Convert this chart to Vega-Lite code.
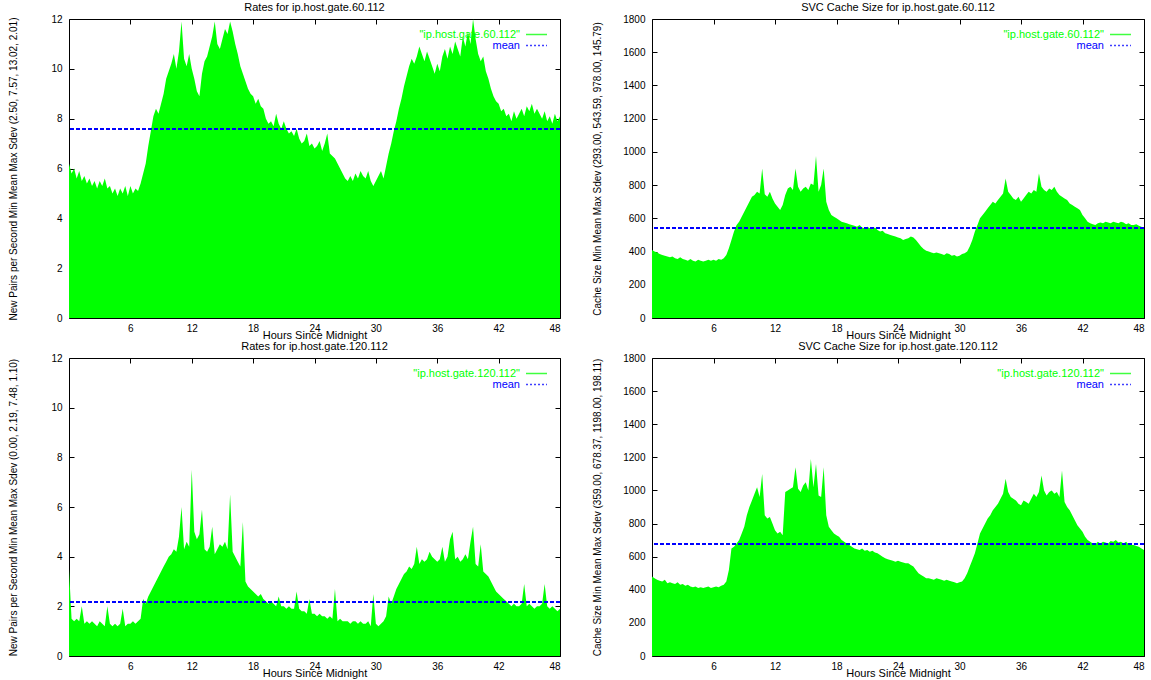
{
"$schema": "https://vega.github.io/schema/vega-lite/v6.json",
"padding": {"left": 8, "top": 1, "right": 0, "bottom": 0},
"background": "white",
"config": {
  "font": "Liberation Sans",
  "view": {"stroke": "#000", "strokeWidth": 1},
  "axis": {"domain": false, "grid": false, "tickColor": "#000", "tickSize": -5, "tickWidth": 1, "labelFont": "Liberation Sans", "labelFontSize": 10, "labelColor": "#000", "titleFont": "Liberation Sans", "titleFontSize": 11, "titleFontWeight": "normal", "titleColor": "#000"},
  "axisY": {"titleFontSize": 10},
  "title": {"font": "Liberation Sans", "fontSize": 11, "fontWeight": "normal", "color": "#000", "baseline": "bottom", "offset": 1, "frame": "group"},
  "legend": {"title": null, "orient": "top-right", "offset": 10, "symbolType": "M-3,0H3", "symbolSize": 49, "symbolStrokeWidth": 1.5, "labelAlign": "right", "rowPadding": -3, "labelFontSize": 11, "labelFont": "Liberation Sans", "labelLimit": 0, "labelColor": {"expr": "datum.value === 'mean' ? '#0000ff' : '#00ff00'"}, "symbolDash": {"expr": "datum.value === 'mean' ? [2,2] : [1,0]"}, "symbolStrokeColor": {"expr": "datum.value === 'mean' ? '#0000ff' : '#00ff00'"}}
},
"datasets": {"d": [
{"h":0,"a":6.2,"b":410,"c":3.5,"d":480},{"h":0.25,"a":5.8,"b":400,"c":1.5,"d":470},{"h":0.5,"a":6.0,"b":395,"c":1.4,"d":460},{"h":0.75,"a":5.6,"b":385,"c":1.5,"d":455},
{"h":1,"a":5.9,"b":380,"c":1.4,"d":450},{"h":1.25,"a":5.5,"b":375,"c":2.0,"d":460},{"h":1.5,"a":5.7,"b":370,"c":1.3,"d":440},{"h":1.75,"a":5.4,"b":365,"c":1.4,"d":445},
{"h":2,"a":5.6,"b":370,"c":1.3,"d":440},{"h":2.25,"a":5.3,"b":360,"c":1.4,"d":435},{"h":2.5,"a":5.5,"b":355,"c":1.3,"d":445},{"h":2.75,"a":5.2,"b":365,"c":1.2,"d":430},
{"h":3,"a":5.5,"b":355,"c":1.4,"d":435},{"h":3.25,"a":5.3,"b":350,"c":1.3,"d":425},{"h":3.5,"a":5.6,"b":345,"c":1.2,"d":430},{"h":3.75,"a":5.2,"b":355,"c":2.0,"d":420},
{"h":4,"a":5.3,"b":345,"c":1.3,"d":415},{"h":4.25,"a":5.0,"b":340,"c":1.2,"d":420},{"h":4.5,"a":5.2,"b":350,"c":1.3,"d":410},{"h":4.75,"a":4.9,"b":345,"c":1.2,"d":415},
{"h":5,"a":5.2,"b":340,"c":1.3,"d":410},{"h":5.25,"a":5.0,"b":345,"c":1.9,"d":415},{"h":5.5,"a":5.3,"b":350,"c":1.2,"d":420},{"h":5.75,"a":4.9,"b":345,"c":1.3,"d":410},
{"h":6,"a":5.3,"b":350,"c":1.3,"d":415},{"h":6.25,"a":5.0,"b":345,"c":1.4,"d":420},{"h":6.5,"a":5.2,"b":355,"c":1.3,"d":415},{"h":6.75,"a":5.1,"b":350,"c":1.4,"d":425},
{"h":7,"a":5.4,"b":360,"c":1.5,"d":430},{"h":7.25,"a":5.8,"b":380,"c":2.3,"d":450},{"h":7.5,"a":6.2,"b":420,"c":2.1,"d":520},{"h":7.75,"a":6.9,"b":470,"c":2.4,"d":650},
{"h":8,"a":7.5,"b":520,"c":2.6,"d":660},{"h":8.25,"a":8.1,"b":560,"c":2.8,"d":680},{"h":8.5,"a":8.4,"b":580,"c":3.0,"d":700},{"h":8.75,"a":8.2,"b":610,"c":3.2,"d":740},
{"h":9,"a":8.6,"b":640,"c":3.4,"d":780},{"h":9.25,"a":9.0,"b":670,"c":3.6,"d":850},{"h":9.5,"a":9.6,"b":700,"c":3.8,"d":900},{"h":9.75,"a":9.9,"b":730,"c":4.0,"d":940},
{"h":10,"a":10.2,"b":740,"c":4.1,"d":980},{"h":10.25,"a":10.6,"b":760,"c":4.3,"d":1020},{"h":10.5,"a":10.0,"b":750,"c":4.2,"d":960},{"h":10.75,"a":10.7,"b":900,"c":4.8,"d":1100},
{"h":11,"a":11.9,"b":745,"c":6.0,"d":850},{"h":11.25,"a":10.4,"b":730,"c":4.3,"d":830},{"h":11.5,"a":10.1,"b":760,"c":4.6,"d":840},{"h":11.75,"a":10.6,"b":720,"c":4.4,"d":800},
{"h":12,"a":10.0,"b":690,"c":7.5,"d":760},{"h":12.25,"a":9.6,"b":670,"c":5.0,"d":740},{"h":12.5,"a":9.1,"b":650,"c":4.7,"d":750},{"h":12.75,"a":8.9,"b":680,"c":4.9,"d":730},
{"h":13,"a":9.8,"b":740,"c":5.9,"d":990},{"h":13.25,"a":10.3,"b":780,"c":4.3,"d":1000},{"h":13.5,"a":10.5,"b":790,"c":4.2,"d":1010},{"h":13.75,"a":10.9,"b":770,"c":4.4,"d":1020},
{"h":14,"a":11.3,"b":900,"c":5.2,"d":1140},{"h":14.25,"a":11.9,"b":790,"c":4.1,"d":1010},{"h":14.5,"a":11.0,"b":760,"c":4.3,"d":990},{"h":14.75,"a":10.8,"b":780,"c":4.5,"d":1030},
{"h":15,"a":11.2,"b":790,"c":4.4,"d":1050},{"h":15.25,"a":11.6,"b":770,"c":4.6,"d":1000},{"h":15.5,"a":11.4,"b":810,"c":4.3,"d":1190},{"h":15.75,"a":11.9,"b":800,"c":6.5,"d":1020},
{"h":16,"a":11.5,"b":975,"c":4.2,"d":1160},{"h":16.25,"a":11.0,"b":760,"c":4.0,"d":970},{"h":16.5,"a":10.6,"b":800,"c":3.8,"d":960},{"h":16.75,"a":10.1,"b":900,"c":3.6,"d":1140},
{"h":17,"a":9.8,"b":700,"c":5.4,"d":850},{"h":17.25,"a":9.5,"b":650,"c":3.0,"d":780},{"h":17.5,"a":9.2,"b":620,"c":2.8,"d":760},{"h":17.75,"a":9.0,"b":610,"c":2.7,"d":740},
{"h":18,"a":8.9,"b":600,"c":2.6,"d":730},{"h":18.25,"a":8.6,"b":590,"c":2.5,"d":720},{"h":18.5,"a":8.8,"b":580,"c":2.4,"d":700},{"h":18.75,"a":8.5,"b":575,"c":2.5,"d":690},
{"h":19,"a":8.4,"b":570,"c":2.3,"d":680},{"h":19.25,"a":8.0,"b":565,"c":2.2,"d":670},{"h":19.5,"a":7.8,"b":560,"c":2.1,"d":660},{"h":19.75,"a":7.9,"b":555,"c":2.2,"d":650},
{"h":20,"a":7.7,"b":550,"c":2.1,"d":645},{"h":20.25,"a":8.2,"b":560,"c":2.0,"d":640},{"h":20.5,"a":7.8,"b":545,"c":2.4,"d":650},{"h":20.75,"a":7.6,"b":540,"c":2.0,"d":635},
{"h":21,"a":7.9,"b":550,"c":2.0,"d":640},{"h":21.25,"a":7.6,"b":540,"c":1.9,"d":630},{"h":21.5,"a":7.4,"b":535,"c":2.0,"d":635},{"h":21.75,"a":7.5,"b":545,"c":1.9,"d":625},
{"h":22,"a":7.3,"b":530,"c":1.9,"d":620},{"h":22.25,"a":7.6,"b":520,"c":2.6,"d":610},{"h":22.5,"a":7.2,"b":525,"c":1.9,"d":600},{"h":22.75,"a":7.0,"b":510,"c":1.8,"d":590},
{"h":23,"a":7.1,"b":505,"c":1.8,"d":585},{"h":23.25,"a":7.4,"b":500,"c":1.7,"d":580},{"h":23.5,"a":6.9,"b":495,"c":2.3,"d":575},{"h":23.75,"a":7.0,"b":490,"c":1.7,"d":570},
{"h":24,"a":6.8,"b":485,"c":1.7,"d":575},{"h":24.25,"a":6.9,"b":480,"c":1.6,"d":570},{"h":24.5,"a":7.1,"b":470,"c":1.7,"d":565},{"h":24.75,"a":6.7,"b":475,"c":1.6,"d":560},
{"h":25,"a":7.0,"b":480,"c":1.6,"d":560},{"h":25.25,"a":7.4,"b":490,"c":1.5,"d":550},{"h":25.5,"a":6.6,"b":485,"c":1.6,"d":540},{"h":25.75,"a":6.5,"b":470,"c":1.5,"d":520},
{"h":26,"a":6.4,"b":450,"c":2.7,"d":500},{"h":26.25,"a":6.2,"b":430,"c":1.4,"d":490},{"h":26.5,"a":6.0,"b":415,"c":1.5,"d":480},{"h":26.75,"a":5.8,"b":405,"c":1.4,"d":470},
{"h":27,"a":5.6,"b":400,"c":1.4,"d":470},{"h":27.25,"a":5.5,"b":395,"c":1.4,"d":465},{"h":27.5,"a":5.7,"b":390,"c":1.3,"d":460},{"h":27.75,"a":5.5,"b":395,"c":1.4,"d":470},
{"h":28,"a":5.8,"b":390,"c":1.4,"d":465},{"h":28.25,"a":5.6,"b":385,"c":1.3,"d":460},{"h":28.5,"a":5.9,"b":380,"c":1.4,"d":455},{"h":28.75,"a":5.7,"b":390,"c":1.3,"d":460},
{"h":29,"a":5.6,"b":385,"c":1.3,"d":455},{"h":29.25,"a":5.9,"b":375,"c":1.4,"d":450},{"h":29.5,"a":5.5,"b":380,"c":1.2,"d":445},{"h":29.75,"a":5.3,"b":370,"c":2.5,"d":440},
{"h":30,"a":5.5,"b":375,"c":1.3,"d":445},{"h":30.25,"a":5.7,"b":385,"c":1.2,"d":450},{"h":30.5,"a":5.9,"b":390,"c":1.3,"d":470},{"h":30.75,"a":5.6,"b":400,"c":1.4,"d":500},
{"h":31,"a":6.1,"b":430,"c":1.6,"d":540},{"h":31.25,"a":6.6,"b":470,"c":2.4,"d":580},{"h":31.5,"a":7.0,"b":520,"c":2.1,"d":620},{"h":31.75,"a":7.5,"b":560,"c":2.4,"d":680},
{"h":32,"a":7.9,"b":600,"c":2.7,"d":740},{"h":32.25,"a":8.4,"b":620,"c":2.9,"d":770},{"h":32.5,"a":8.8,"b":640,"c":3.1,"d":800},{"h":32.75,"a":9.3,"b":660,"c":3.3,"d":830},
{"h":33,"a":9.7,"b":680,"c":3.4,"d":850},{"h":33.25,"a":10.1,"b":700,"c":3.6,"d":880},{"h":33.5,"a":10.4,"b":690,"c":3.5,"d":900},{"h":33.75,"a":10.2,"b":710,"c":3.7,"d":920},
{"h":34,"a":10.5,"b":730,"c":4.4,"d":950},{"h":34.25,"a":10.9,"b":750,"c":3.7,"d":980},{"h":34.5,"a":10.6,"b":840,"c":3.9,"d":1070},{"h":34.75,"a":10.3,"b":760,"c":3.8,"d":990},
{"h":35,"a":10.7,"b":740,"c":3.9,"d":960},{"h":35.25,"a":10.4,"b":720,"c":4.2,"d":950},{"h":35.5,"a":10.1,"b":710,"c":4.0,"d":940},{"h":35.75,"a":9.8,"b":730,"c":3.9,"d":920},
{"h":36,"a":10.2,"b":700,"c":3.8,"d":910},{"h":36.25,"a":9.9,"b":720,"c":3.9,"d":940},{"h":36.5,"a":10.5,"b":740,"c":4.4,"d":930},{"h":36.75,"a":10.8,"b":760,"c":3.8,"d":920},
{"h":37,"a":10.4,"b":750,"c":4.0,"d":950},{"h":37.25,"a":10.9,"b":770,"c":4.7,"d":980},{"h":37.5,"a":10.6,"b":760,"c":5.0,"d":960},{"h":37.75,"a":11.1,"b":870,"c":3.9,"d":990},
{"h":38,"a":10.8,"b":790,"c":4.0,"d":1090},{"h":38.25,"a":10.5,"b":770,"c":3.8,"d":1000},{"h":38.5,"a":11.3,"b":760,"c":3.9,"d":970},{"h":38.75,"a":10.9,"b":780,"c":4.1,"d":990},
{"h":39,"a":11.5,"b":770,"c":3.9,"d":1000},{"h":39.25,"a":11.0,"b":790,"c":4.6,"d":980},{"h":39.5,"a":12.0,"b":760,"c":5.2,"d":990},{"h":39.75,"a":11.2,"b":740,"c":3.7,"d":960},
{"h":40,"a":10.6,"b":730,"c":3.6,"d":1120},{"h":40.25,"a":10.3,"b":720,"c":4.5,"d":930},{"h":40.5,"a":10.5,"b":710,"c":3.4,"d":900},{"h":40.75,"a":9.9,"b":690,"c":3.3,"d":880},
{"h":41,"a":9.6,"b":680,"c":3.2,"d":850},{"h":41.25,"a":9.2,"b":670,"c":3.0,"d":820},{"h":41.5,"a":8.9,"b":660,"c":2.8,"d":790},{"h":41.75,"a":8.7,"b":650,"c":2.6,"d":770},
{"h":42,"a":8.6,"b":620,"c":2.5,"d":750},{"h":42.25,"a":8.3,"b":600,"c":2.4,"d":720},{"h":42.5,"a":8.4,"b":580,"c":2.3,"d":700},{"h":42.75,"a":8.1,"b":570,"c":2.2,"d":690},
{"h":43,"a":8.2,"b":565,"c":2.1,"d":680},{"h":43.25,"a":7.9,"b":560,"c":2.0,"d":675},{"h":43.5,"a":8.3,"b":570,"c":2.1,"d":690},{"h":43.75,"a":8.0,"b":575,"c":2.0,"d":680},
{"h":44,"a":8.2,"b":570,"c":2.0,"d":690},{"h":44.25,"a":8.4,"b":580,"c":2.1,"d":685},{"h":44.5,"a":8.1,"b":575,"c":2.9,"d":680},{"h":44.75,"a":8.5,"b":570,"c":2.0,"d":695},
{"h":45,"a":8.3,"b":580,"c":2.1,"d":690},{"h":45.25,"a":8.6,"b":575,"c":2.0,"d":700},{"h":45.5,"a":8.2,"b":570,"c":1.9,"d":685},{"h":45.75,"a":8.4,"b":580,"c":2.0,"d":690},
{"h":46,"a":8.2,"b":575,"c":2.0,"d":680},{"h":46.25,"a":8.0,"b":565,"c":2.1,"d":690},{"h":46.5,"a":8.3,"b":570,"c":2.9,"d":675},{"h":46.75,"a":7.9,"b":560,"c":2.0,"d":670},
{"h":47,"a":8.1,"b":560,"c":1.9,"d":670},{"h":47.25,"a":7.8,"b":565,"c":2.0,"d":665},{"h":47.5,"a":8.2,"b":555,"c":1.9,"d":660},{"h":47.75,"a":7.9,"b":550,"c":1.8,"d":650},
{"h":48,"a":8.1,"b":540,"c":1.9,"d":640}
]},
"columns": 2,
"bounds": "flush",
"spacing": {"row": 40, "column": 92},
"resolve": {"scale": {"color": "independent"}, "legend": {"color": "independent"}},
"concat": [
 {"width": 491, "height": 299, "title": "Rates for ip.host.gate.60.112", "data": {"name": "d"},
  "layer": [
   {"mark": {"type": "area", "clip": true, "interpolate": "linear"},
    "encoding": {
     "x": {"field": "h", "type": "quantitative", "scale": {"domain": [0, 48], "nice": false, "zero": false}, "axis": {"values": [6,12,18,24,30,36,42,48], "title": "Hours Since Midnight", "labelPadding": 10, "titlePadding": -4}},
     "y": {"field": "a", "type": "quantitative", "scale": {"domain": [0, 12], "nice": false}, "axis": {"values": [0,2,4,6,8,10,12], "title": "New Pairs per Second Min Mean Max Sdev (2.50, 7.57, 13.02, 2.01)", "labelPadding": 12, "titlePadding": 32}},
     "color": {"datum": "\"ip.host.gate.60.112\"", "scale": {"domain": ["\"ip.host.gate.60.112\"", "mean"], "range": ["#00ff00", "#0000ff"]}, "legend": {"labelOffset": -22, "labelAlign": "right"}}}},
   {"mark": {"type": "rule", "strokeDash": [4, 2], "strokeWidth": 1, "opacity": 0.75},
    "encoding": {"y": {"datum": 7.57, "type": "quantitative", "axis": null}, "color": {"datum": "mean"}}},
   {"mark": {"type": "point", "opacity": 0},
    "encoding": {
     "x": {"field": "h", "type": "quantitative", "axis": {"orient": "top", "labels": false, "title": null, "values": [6,12,18,24,30,36,42,48]}},
     "y": {"field": "a", "type": "quantitative", "axis": {"orient": "right", "labels": false, "title": null, "values": [0,2,4,6,8,10,12]}}}}
  ],
  "resolve": {"axis": {"x": "independent", "y": "independent"}}},
 {"width": 492, "height": 299, "title": "SVC Cache Size for ip.host.gate.60.112", "data": {"name": "d"},
  "layer": [
   {"mark": {"type": "area", "clip": true, "interpolate": "linear"},
    "encoding": {
     "x": {"field": "h", "type": "quantitative", "scale": {"domain": [0, 48], "nice": false, "zero": false}, "axis": {"values": [6,12,18,24,30,36,42,48], "title": "Hours Since Midnight", "labelPadding": 10, "titlePadding": -4}},
     "y": {"field": "b", "type": "quantitative", "scale": {"domain": [0, 1800], "nice": false}, "axis": {"values": [0,200,400,600,800,1000,1200,1400,1600,1800], "format": "d", "title": "Cache Size Min Mean Max Sdev (293.00, 543.59, 978.00, 145.79)", "labelPadding": 12, "titlePadding": 20}},
     "color": {"datum": "\"ip.host.gate.60.112\"", "scale": {"domain": ["\"ip.host.gate.60.112\"", "mean"], "range": ["#00ff00", "#0000ff"]}, "legend": {"labelOffset": -22, "labelAlign": "right"}}}},
   {"mark": {"type": "rule", "strokeDash": [4, 2], "strokeWidth": 1, "opacity": 0.75},
    "encoding": {"y": {"datum": 543.59, "type": "quantitative", "axis": null}, "color": {"datum": "mean"}}},
   {"mark": {"type": "point", "opacity": 0},
    "encoding": {
     "x": {"field": "h", "type": "quantitative", "axis": {"orient": "top", "labels": false, "title": null, "values": [6,12,18,24,30,36,42,48]}},
     "y": {"field": "b", "type": "quantitative", "axis": {"orient": "right", "labels": false, "title": null, "values": [0,200,400,600,800,1000,1200,1400,1600,1800]}}}}
  ],
  "resolve": {"axis": {"x": "independent", "y": "independent"}}},
 {"width": 491, "height": 298, "title": "Rates for ip.host.gate.120.112", "data": {"name": "d"},
  "layer": [
   {"mark": {"type": "area", "clip": true, "interpolate": "linear"},
    "encoding": {
     "x": {"field": "h", "type": "quantitative", "scale": {"domain": [0, 48], "nice": false, "zero": false}, "axis": {"values": [6,12,18,24,30,36,42,48], "title": "Hours Since Midnight", "labelPadding": 10, "titlePadding": -4}},
     "y": {"field": "c", "type": "quantitative", "scale": {"domain": [0, 12], "nice": false}, "axis": {"values": [0,2,4,6,8,10,12], "title": "New Pairs per Second Min Mean Max Sdev (0.00, 2.19, 7.48, 1.10)", "labelPadding": 12, "titlePadding": 32}},
     "color": {"datum": "\"ip.host.gate.120.112\"", "scale": {"domain": ["\"ip.host.gate.120.112\"", "mean"], "range": ["#00ff00", "#0000ff"]}, "legend": {"labelOffset": -22, "labelAlign": "right"}}}},
   {"mark": {"type": "rule", "strokeDash": [4, 2], "strokeWidth": 1, "opacity": 0.75},
    "encoding": {"y": {"datum": 2.19, "type": "quantitative", "axis": null}, "color": {"datum": "mean"}}},
   {"mark": {"type": "point", "opacity": 0},
    "encoding": {
     "x": {"field": "h", "type": "quantitative", "axis": {"orient": "top", "labels": false, "title": null, "values": [6,12,18,24,30,36,42,48]}},
     "y": {"field": "c", "type": "quantitative", "axis": {"orient": "right", "labels": false, "title": null, "values": [0,2,4,6,8,10,12]}}}}
  ],
  "resolve": {"axis": {"x": "independent", "y": "independent"}}},
 {"width": 492, "height": 298, "title": "SVC Cache Size for ip.host.gate.120.112", "data": {"name": "d"},
  "layer": [
   {"mark": {"type": "area", "clip": true, "interpolate": "linear"},
    "encoding": {
     "x": {"field": "h", "type": "quantitative", "scale": {"domain": [0, 48], "nice": false, "zero": false}, "axis": {"values": [6,12,18,24,30,36,42,48], "title": "Hours Since Midnight", "labelPadding": 10, "titlePadding": -4}},
     "y": {"field": "d", "type": "quantitative", "scale": {"domain": [0, 1800], "nice": false}, "axis": {"values": [0,200,400,600,800,1000,1200,1400,1600,1800], "format": "d", "title": "Cache Size Min Mean Max Sdev (359.00, 678.37, 1198.00, 198.11)", "labelPadding": 12, "titlePadding": 20}},
     "color": {"datum": "\"ip.host.gate.120.112\"", "scale": {"domain": ["\"ip.host.gate.120.112\"", "mean"], "range": ["#00ff00", "#0000ff"]}, "legend": {"labelOffset": -22, "labelAlign": "right"}}}},
   {"mark": {"type": "rule", "strokeDash": [4, 2], "strokeWidth": 1, "opacity": 0.75},
    "encoding": {"y": {"datum": 678.37, "type": "quantitative", "axis": null}, "color": {"datum": "mean"}}},
   {"mark": {"type": "point", "opacity": 0},
    "encoding": {
     "x": {"field": "h", "type": "quantitative", "axis": {"orient": "top", "labels": false, "title": null, "values": [6,12,18,24,30,36,42,48]}},
     "y": {"field": "d", "type": "quantitative", "axis": {"orient": "right", "labels": false, "title": null, "values": [0,200,400,600,800,1000,1200,1400,1600,1800]}}}}
  ],
  "resolve": {"axis": {"x": "independent", "y": "independent"}}}
]
}
